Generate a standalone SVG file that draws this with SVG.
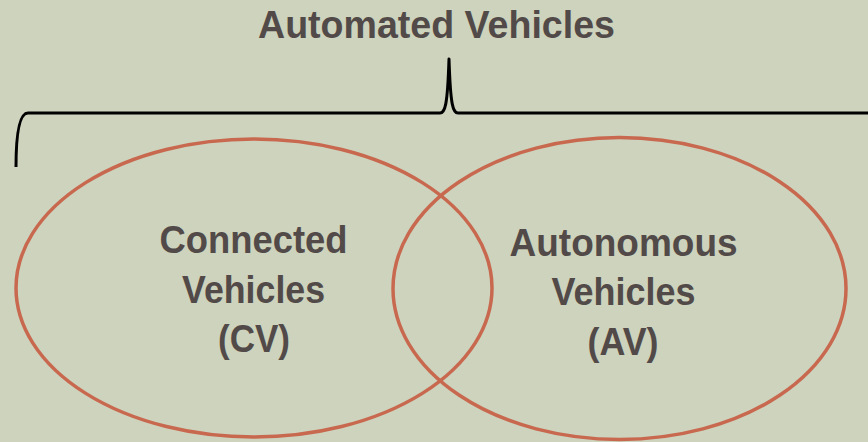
<svg xmlns="http://www.w3.org/2000/svg" width="868" height="442" viewBox="0 0 868 442">
  <style>
    .label { font-family: "Liberation Sans", Arial, sans-serif; font-weight: bold; fill: #524a48; text-anchor: middle; }
    .set { fill: none; stroke: #c8684f; stroke-width: 3.5; }
    .brace { fill: none; stroke: #000; stroke-width: 3; stroke-linejoin: round; }
  </style>
  <rect width="868" height="442" fill="#cdd3bc"/>

  <g id="title">
    <text class="label" x="436.5" y="38" font-size="38" textLength="357" lengthAdjust="spacingAndGlyphs">Automated Vehicles</text>
  </g>

  <g id="connectors">
    <path class="brace" d="M16,167 C16,140 18,113 28,113 L440,113 C445,113 447.5,106 449,59 C450.5,106 453,113 458,113 L868,113"/>
  </g>

  <g id="connected-vehicles">
    <ellipse class="set" cx="254" cy="288" rx="238" ry="149"/>
    <text class="label" font-size="39">
      <tspan x="259" y="253" textLength="188" lengthAdjust="spacingAndGlyphs">Connected</tspan>
      <tspan x="259" y="303" textLength="143" lengthAdjust="spacingAndGlyphs">Vehicles</tspan>
      <tspan x="254" y="352" textLength="72" lengthAdjust="spacingAndGlyphs">(CV)</tspan>
    </text>
  </g>

  <g id="autonomous-vehicles">
    <ellipse class="set" cx="619.5" cy="288.5" rx="226.5" ry="151"/>
    <text class="label" font-size="39">
      <tspan x="629" y="256" textLength="228" lengthAdjust="spacingAndGlyphs">Autonomous</tspan>
      <tspan x="629" y="305" textLength="144" lengthAdjust="spacingAndGlyphs">Vehicles</tspan>
      <tspan x="623" y="355" textLength="71" lengthAdjust="spacingAndGlyphs">(AV)</tspan>
    </text>
  </g>
</svg>
